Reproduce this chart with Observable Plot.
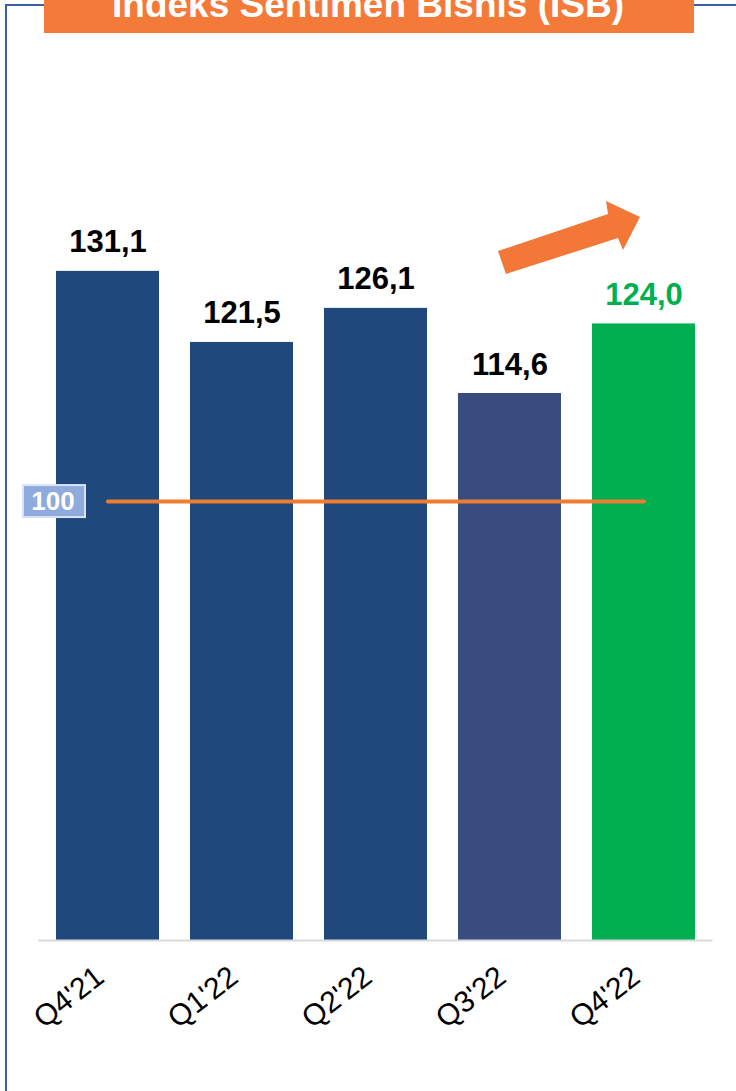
<!DOCTYPE html>
<html><head><meta charset="utf-8">
<script src="https://cdn.jsdelivr.net/npm/d3@7"></script>
<script src="https://cdn.jsdelivr.net/npm/@observablehq/plot@0.6"></script>
<style>
html,body{margin:0;padding:0;background:#fff;}
#wrap{position:relative;width:736px;height:1091px;overflow:hidden;font-family:"Liberation Sans",Arial,sans-serif;}
#wrap > svg{position:absolute;left:0;top:0;}
</style></head><body><div id="wrap"></div>
<script>
// ---- data ----
const periods = ["Q4'21", "Q1'22", "Q2'22", "Q3'22", "Q4'22"];
const values = [131.1, 121.5, 126.1, 114.6, 124.0];
const valueLabels = ["131,1", "121,5", "126,1", "114,6", "124,0"];
const referenceLevel = 100;
const referenceLabel = "100";
const title = "Indeks Sentimen Bisnis (ISB)";
const yDomain = [40.7, 140];

// ---- styles ----
const barColors = ["#1F497C", "#1F497C", "#1F497C", "#394C80", "#00AF50"];
const labelColors = ["#000000", "#000000", "#000000", "#000000", "#00B050"];
const font = "'Liberation Sans', Arial, sans-serif";

const data = periods.map((p, i) => ({period: p, value: values[i], label: valueLabels[i], i}));
const refPoints = [periods[0], periods[periods.length - 1]].map(p => ({period: p, value: referenceLevel}));

const chart = Plot.plot({
  width: 736, height: 1091,
  marginTop: 205, marginBottom: 151, marginLeft: 38.5, marginRight: 23.5,
  style: {background: "transparent", fontFamily: font, overflow: "visible"},
  x: {domain: periods, paddingInner: 0.23, paddingOuter: 0.115, label: null},
  y: {domain: yDomain, clamp: true, axis: null},
  color: {type: "identity"},
  marks: [
    Plot.barY(data, {x: "period", y1: yDomain[0], y2: "value", fill: d => barColors[d.i]}),
    Plot.ruleY([yDomain[0]], {stroke: "#D9D9D9", strokeWidth: 2}),
    Plot.line(refPoints, {x: "period", y: "value", stroke: "#ED7D31", strokeWidth: 4, strokeLinecap: "round"}),
    Plot.text(data, {x: "period", y: "value", text: "label", dy: -19, lineAnchor: "bottom",
      fontSize: 31, fontWeight: "bold", fill: d => labelColors[d.i]}),
    Plot.axisX({tickSize: 0, tickPadding: 40, tickRotate: -38, textAnchor: "end", lineAnchor: "bottom",
      dx: -2, fontSize: 30, fill: "#000", label: null})
  ]
});
const wrap = document.getElementById("wrap");
wrap.appendChild(chart);

// reference badge, positioned from the y scale
const ns = "http://www.w3.org/2000/svg";
const yRef = chart.scale("y").apply(referenceLevel);
const g = document.createElementNS(ns, "g");
const r = document.createElementNS(ns, "rect");
r.setAttribute("x", 23); r.setAttribute("y", yRef - 16); r.setAttribute("width", 62); r.setAttribute("height", 32);
r.setAttribute("fill", "#8FAADC"); r.setAttribute("stroke", "#DAE3F3"); r.setAttribute("stroke-width", 2);
g.appendChild(r);
const t = document.createElementNS(ns, "text");
t.setAttribute("x", 53); t.setAttribute("y", yRef + 9); t.setAttribute("text-anchor", "middle");
t.setAttribute("fill", "#fff"); t.setAttribute("font-weight", "bold"); t.setAttribute("font-size", 26);
t.setAttribute("font-family", font);
t.textContent = referenceLabel;
g.appendChild(t);
chart.appendChild(g);

// frame, title band and decorative arrow
const deco = d3.select(wrap).append("svg").attr("width", 736).attr("height", 1091);
deco.append("line").attr("x1", 6).attr("x2", 736).attr("y1", 5).attr("y2", 5).attr("stroke", "#3B5EA6").attr("stroke-width", 2);
deco.append("line").attr("x1", 6).attr("x2", 6).attr("y1", 4).attr("y2", 1091).attr("stroke", "#3B5EA6").attr("stroke-width", 2);
deco.append("rect").attr("x", 44).attr("y", 0).attr("width", 650).attr("height", 33).attr("fill", "#F47A3A");
deco.append("text").attr("x", 368).attr("y", 17).attr("text-anchor", "middle").attr("fill", "#fff")
  .attr("font-weight", "bold").attr("font-size", 37).attr("font-family", font).text(title);
deco.append("polygon")
  .attr("points", "498,251 608,214 606,201 640,217 623,250 618,238 506,274")
  .attr("fill", "#F37736");
</script></body></html>
